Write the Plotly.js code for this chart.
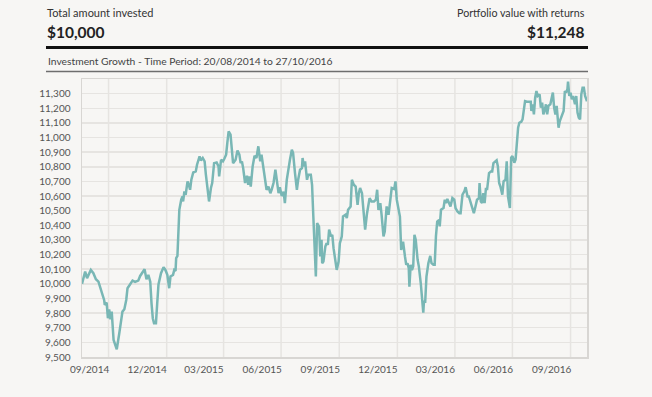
<!DOCTYPE html>
<html>
<head>
<meta charset="utf-8">
<script src="https://cdn.plot.ly/plotly-3.0.1.min.js"></script>
<style>
  html, body { margin: 0; padding: 0; background: #f7f6f4; }
  #chart { width: 652px; height: 397px; }
</style>
</head>
<body>
<div id="chart"></div>
<script>
const dates = [
"2014-08-20","2014-08-25","2014-08-28","2014-09-03","2014-09-07","2014-09-11","2014-09-15","2014-09-19","2014-09-22","2014-09-24",
"2014-09-25","2014-09-28","2014-09-30","2014-10-02","2014-10-04","2014-10-06","2014-10-09","2014-10-11","2014-10-14","2014-10-18",
"2014-10-21","2014-10-23","2014-10-26","2014-10-29","2014-10-31","2014-11-04","2014-11-08","2014-11-12","2014-11-17","2014-11-20",
"2014-11-24","2014-11-27","2014-11-29","2014-11-30","2014-12-03","2014-12-06","2014-12-08","2014-12-10","2014-12-12","2014-12-15",
"2014-12-17","2014-12-19","2014-12-23","2014-12-27","2014-12-30","2015-01-02","2015-01-05","2015-01-07","2015-01-11","2015-01-13",
"2015-01-15","2015-01-16","2015-01-18","2015-01-21","2015-01-24","2015-01-26","2015-01-27","2015-01-29","2015-01-31","2015-02-03",
"2015-02-05","2015-02-07","2015-02-09","2015-02-12","2015-02-16","2015-02-18","2015-02-22","2015-02-24","2015-02-27","2015-03-02",
"2015-03-04","2015-03-07","2015-03-09","2015-03-12","2015-03-14","2015-03-17","2015-03-21","2015-03-24","2015-03-25","2015-03-28",
"2015-03-31","2015-04-02","2015-04-05","2015-04-07","2015-04-09","2015-04-12","2015-04-14","2015-04-16","2015-04-20","2015-04-23",
"2015-04-26","2015-04-28","2015-04-30","2015-05-02","2015-05-05","2015-05-08","2015-05-10","2015-05-12","2015-05-14","2015-05-17",
"2015-05-20","2015-05-23","2015-05-26","2015-05-29","2015-05-31","2015-06-03","2015-06-06","2015-06-08","2015-06-11","2015-06-14",
"2015-06-16","2015-06-19","2015-06-22","2015-06-25","2015-06-27","2015-06-29","2015-07-02","2015-07-05","2015-07-07","2015-07-10",
"2015-07-12","2015-07-15","2015-07-18","2015-07-20","2015-07-23","2015-07-26","2015-07-28","2015-07-31","2015-08-03","2015-08-04",
"2015-08-06","2015-08-08","2015-08-11","2015-08-13","2015-08-17","2015-08-19","2015-08-21","2015-08-23","2015-08-25","2015-08-27",
"2015-08-30","2015-09-01","2015-09-03","2015-09-04","2015-09-06","2015-09-09","2015-09-11","2015-09-13","2015-09-15","2015-09-18",
"2015-09-20","2015-09-22","2015-09-24","2015-09-27","2015-09-30","2015-10-02","2015-10-05","2015-10-07","2015-10-11","2015-10-13",
"2015-10-15","2015-10-19","2015-10-21","2015-10-24","2015-10-27","2015-10-30","2015-11-01","2015-11-03","2015-11-06","2015-11-08",
"2015-11-11","2015-11-14","2015-11-18","2015-11-21","2015-11-25","2015-11-28","2015-11-30","2015-12-02","2015-12-05","2015-12-07",
"2015-12-10","2015-12-12","2015-12-15","2015-12-18","2015-12-20","2015-12-23","2015-12-27","2015-12-29","2015-12-31","2016-01-03",
"2016-01-05","2016-01-07","2016-01-10","2016-01-13","2016-01-15","2016-01-17","2016-01-19","2016-01-20","2016-01-22","2016-01-24",
"2016-01-26","2016-01-28","2016-01-30","2016-02-02","2016-02-04","2016-02-07","2016-02-09","2016-02-11","2016-02-12","2016-02-14",
"2016-02-16","2016-02-19","2016-02-22","2016-02-24","2016-02-27","2016-02-29","2016-03-02","2016-03-04","2016-03-07","2016-03-08",
"2016-03-10","2016-03-14","2016-03-16","2016-03-18","2016-03-20","2016-03-23","2016-03-25","2016-03-28","2016-03-31","2016-04-02",
"2016-04-05","2016-04-08","2016-04-10","2016-04-13","2016-04-16","2016-04-18","2016-04-21","2016-04-23","2016-04-26","2016-04-28",
"2016-05-01","2016-05-03","2016-05-06","2016-05-09","2016-05-10","2016-05-12","2016-05-14","2016-05-16","2016-05-18","2016-05-20",
"2016-05-22","2016-05-25","2016-05-28","2016-05-30","2016-06-01","2016-06-04","2016-06-06","2016-06-08","2016-06-10","2016-06-12",
"2016-06-15","2016-06-17","2016-06-20","2016-06-22","2016-06-24","2016-06-27","2016-06-29","2016-07-01","2016-07-04","2016-07-06",
"2016-07-08","2016-07-10","2016-07-12","2016-07-15","2016-07-17","2016-07-19","2016-07-21","2016-07-24","2016-07-27","2016-07-30",
"2016-07-31","2016-08-02","2016-08-04","2016-08-06","2016-08-08","2016-08-10","2016-08-13","2016-08-15","2016-08-17","2016-08-19",
"2016-08-22","2016-08-23","2016-08-25","2016-08-27","2016-08-30","2016-09-01","2016-09-03","2016-09-05","2016-09-07","2016-09-09",
"2016-09-11","2016-09-12","2016-09-14","2016-09-17","2016-09-20","2016-09-22","2016-09-24","2016-09-26","2016-09-27","2016-09-29",
"2016-10-01","2016-10-03","2016-10-05","2016-10-08","2016-10-10","2016-10-12","2016-10-14","2016-10-16","2016-10-18","2016-10-20",
"2016-10-22","2016-10-24","2016-10-27"
];
const portfolioValues = [
10000,10084,10039,10095,10073,10032,10015,9958,9924,9890,
9856,9872,9765,9826,9758,9810,9616,9589,9553,9662,
9765,9810,9826,9890,9970,9993,10022,10013,10022,10054,
10084,10100,10054,10032,10061,10015,9867,9765,9731,9731,
9867,9996,10073,10114,10095,10061,9970,10050,10061,10095,
10088,10176,10191,10506,10575,10597,10563,10632,10609,10700,
10677,10643,10711,10761,10768,10814,10871,10844,10860,10837,
10746,10655,10563,10655,10689,10825,10830,10803,10734,10848,
10837,10853,10883,10967,11042,11020,10940,10825,10848,10912,
10883,10825,10837,10791,10689,10739,10677,10734,10665,10803,
10876,10860,10940,10837,10883,10803,10723,10643,10665,10619,
10643,10689,10780,10689,10620,10660,10600,10630,10552,10711,
10780,10848,10917,10894,10757,10643,10711,10780,10791,10860,
10803,10837,10711,10746,10746,10677,10460,10210,10050,10415,
10392,10187,10301,10141,10152,10255,10278,10267,10370,10324,
10335,10244,10187,10095,10152,10278,10324,10460,10472,10449,
10506,10529,10711,10677,10665,10540,10619,10655,10619,10506,
10370,10483,10586,10563,10563,10575,10643,10506,10552,10472,
10324,10358,10529,10472,10540,10655,10648,10700,10575,10518,
10460,10232,10289,10187,10130,10141,10107,9981,10130,10095,
10118,10335,10301,10164,10118,10004,9913,9803,9878,9878,
10050,10141,10191,10141,10130,10130,10324,10426,10437,10392,
10506,10518,10575,10552,10580,10540,10529,10586,10575,10518,
10495,10483,10483,10609,10632,10661,10597,10597,10547,10518,
10483,10518,10575,10586,10689,10563,10552,10619,10552,10648,
10648,10757,10768,10768,10825,10837,10844,10803,10689,10665,
10609,10700,10711,10837,10597,10518,10862,10873,10828,10850,
10953,11067,11101,11108,11124,11181,11249,11245,11245,11245,
11181,11227,11158,11272,11318,11284,11295,11204,11238,11158,
11204,11227,11158,11216,11227,11284,11307,11204,11158,11216,
11136,11067,11113,11147,11181,11318,11307,11330,11382,11284,
11307,11261,11284,11227,11284,11170,11136,11124,11295,11341,
11341,11284,11248
];
const xTickDates = ["2014-09-01","2014-12-01","2015-03-01","2015-06-01","2015-09-01","2015-12-01","2016-03-01","2016-06-01","2016-09-01"];
const xGridDates = ["2014-10-01","2015-01-01","2015-04-01","2015-07-01","2015-10-01","2016-01-01","2016-04-01","2016-07-01","2016-10-01"];
const yTickValues = [9500,9600,9700,9800,9900,10000,10100,10200,10300,10400,10500,10600,10700,10800,10900,11000,11100,11200,11300];
const headerLeftLabel = "Total amount invested";
const headerLeftValue = "$10,000";
const headerRightLabel = "Portfolio value with returns";
const headerRightValue = "$11,248";
const subtitle = "Investment Growth - Time Period: 20/08/2014 to 27/10/2016";
const dateStart = "2014-08-20", dateEnd = "2016-10-27";

const FONT = "Lato, 'Open Sans', sans-serif";
const gridColor = "#e6e4e1";

const shapes = xGridDates.map(d => ({
  type: "line", xref: "x", yref: "paper", x0: d, x1: d, y0: 0, y1: 1,
  line: { color: gridColor, width: 1.5 }, layer: "below"
}));
shapes.push({ type: "line", xref: "paper", yref: "paper", x0: -0.0713, x1: 1.002, y0: 1.113, y1: 1.113, line: { color: "#111", width: 3 } });
shapes.push({ type: "line", xref: "paper", yref: "paper", x0: -0.0713, x1: 1.002, y0: 1.027, y1: 1.027, line: { color: "#6e6e6e", width: 1.5 } });

const labelY = 1.2105;   // bottom of label lines
const valueY = 1.2050;   // top of value lines
const annotations = [
  { text: headerLeftLabel, xref: "paper", yref: "paper", x: -0.0713, y: labelY, xanchor: "left", yanchor: "bottom",
    borderpad: 0, showarrow: false, font: { family: FONT, size: 11, color: "#333" } },
  { text: "<b>" + headerLeftValue + "</b>", xref: "paper", yref: "paper", x: -0.0713, y: valueY, xanchor: "left", yanchor: "top",
    borderpad: 0, showarrow: false, font: { family: FONT, size: 15.5, color: "#222" } },
  { text: headerRightLabel, xref: "paper", yref: "paper", x: 0.999, y: labelY, xanchor: "right", yanchor: "bottom",
    borderpad: 0, showarrow: false, font: { family: FONT, size: 10.7, color: "#333" } },
  { text: "<b>" + headerRightValue + "</b>", xref: "paper", yref: "paper", x: 0.999, y: valueY, xanchor: "right", yanchor: "top",
    borderpad: 0, showarrow: false, font: { family: FONT, size: 15.5, color: "#222" } },
  { text: subtitle, xref: "paper", yref: "paper", x: -0.0713, y: 1.066, xanchor: "left", yanchor: "middle",
    showarrow: false, font: { family: FONT, size: 10.3, color: "#444" } }
];

const trace = {
  type: "scatter", mode: "lines", x: dates, y: portfolioValues,
  line: { color: "#79b7b5", width: 2.5 }, hoverinfo: "x+y"
};

const layout = {
  width: 652, height: 397,
  margin: { l: 82, r: 65, t: 79, b: 40, pad: 0 },
  paper_bgcolor: "#f7f6f4", plot_bgcolor: "#f7f6f4",
  showlegend: false,
  font: { family: FONT, size: 10, color: "#555" },
  xaxis: {
    type: "date", range: [dateStart, dateEnd],
    tickvals: xTickDates, tickformat: "%m/%Y",
    showgrid: false, zeroline: false,
    showline: true, mirror: true, linecolor: "#d8d6d3", linewidth: 1.5,
    ticks: "outside", ticklen: 2, tickcolor: "rgba(0,0,0,0)",
    tickfont: { family: FONT, size: 10, color: "#555" }
  },
  yaxis: {
    range: [9500, 11400], tickvals: yTickValues, tickformat: ",d",
    showgrid: true, gridcolor: gridColor, gridwidth: 1.5, zeroline: false,
    showline: true, mirror: true, linecolor: "#d8d6d3", linewidth: 1.5,
    ticks: "outside", ticklen: 8, tickcolor: "rgba(0,0,0,0)",
    tickfont: { family: FONT, size: 10, color: "#555" }
  },
  shapes: shapes,
  annotations: annotations
};

Plotly.newPlot("chart", [trace], layout, { displayModeBar: false, staticPlot: true });
</script>
</body>
</html>
